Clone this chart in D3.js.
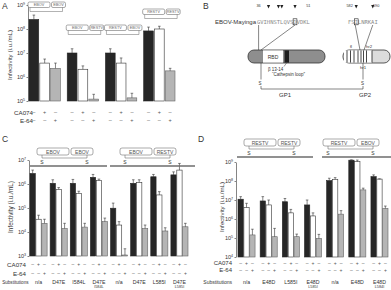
<!DOCTYPE html>
<html>
<head>
<meta charset="utf-8">
<script src="https://cdn.jsdelivr.net/npm/d3@7"></script>
<style>
  body { margin: 0; background: #fff; }
  svg { display: block; font-family: "Liberation Sans", Arial, sans-serif; }
</style>
</head>
<body>
<svg id="fig" width="391" height="290"></svg>
<script>
// treatment pattern under every group: untreated, CA074, E-64
var treatCA = ['-', '+', '-']
var treatE64 = ['-', '-', '+']

// A: chimeric GP1 / GP2
var aChimeras = [['EBOV', 'EBOV'], ['EBOV', 'RESTV'], ['RESTV', 'EBOV'], ['RESTV', 'RESTV']]
var aNone = [2.5e8, 1.0e7, 1.0e7, 8.3e7]
var aNoneSD = [1.3e8, 0.5e7, 0.5e7, 3.7e7]
var aCA = [3.8e6, 2.1e6, 3.8e6, 1.0e8]
var aCASD = [1.8e6, 0.8e6, 2.4e6, 0.3e8]
var aE64 = [2.3e6, 1.2e5, 1.35e5, 1.8e6]
var aE64SD = [1.5e6, 0.7e5, 0.75e5, 0.5e6]
var aTicks = [1e5, 1e6, 1e7, 1e8, 1e9]

// C: substitutions in EBOV backgrounds
var cChimeras = [['EBOV', 'EBOV'], ['EBOV', 'RESTV']]
var cSubs = ['n/a', 'D47E', 'I584L', 'D47E|I584L', 'n/a', 'D47E', 'L585I', 'D47E|L585I']
var cNone = [2.75e6, 1.07e6, 1.07e6, 1.9e6, 9.8e4, 1.07e6, 2.0e6, 2.4e6]
var cNoneSD = [1.05e6, 0.43e6, 0.48e6, 0.6e6, 0.62e5, 0.43e6, 0.5e6, 0.8e6]
var cCA = [3.4e4, 6.0e5, 4.1e5, 1.4e6, 1.95e4, 1.15e6, 3.5e5, 3.8e6]
var cCASD = [1.6e4, 1.1e5, 0.9e5, 0.2e6, 0.75e4, 0.35e6, 1.3e5, 3.4e6]
var cE64 = [2.3e4, 1.4e4, 1.6e4, 2.7e4, 1.1e3, 1.4e4, 1.1e4, 1.65e4]
var cE64SD = [1.1e4, 0.9e4, 0.7e4, 1.1e4, 0.9e3, 0.55e4, 0.4e4, 0.65e4]
var cTicks = [1e3, 1e4, 1e5, 1e6, 1e7]

// D: substitutions in RESTV backgrounds
var dChimeras = [['RESTV', 'RESTV'], ['RESTV', 'EBOV']]
var dSubs = ['n/a', 'E48D', 'L585I', 'E48D|L585I', 'n/a', 'E48D', 'E48D|L584I']
var dNone = [1.1e7, 8.9e6, 8.1e6, 5.5e6, 1.05e8, 1.25e9, 1.7e8]
var dNoneSD = [0.4e7, 0.61e7, 0.39e7, 0.45e7, 0.35e8, 0.05e9, 0.4e8]
var dCA = [4.0e6, 5.5e6, 2.1e6, 1.45e6, 1.23e8, 1.05e9, 1.26e8]
var dCASD = [2.7e6, 4.5e6, 1.1e6, 0.65e6, 0.27e8, 0.21e9, 0.04e8]
var dE64 = [1.45e5, 1.17e5, 1.17e5, 9.5e4, 1.8e6, 3.4e7, 3.6e6]
var dE64SD = [1.45e5, 2.03e5, 0.43e5, 0.6e5, 0.95e6, 0.8e7, 1.2e6]
var dTicks = [1e4, 1e5, 1e6, 1e7, 1e8, 1e9]

// B: GP schematic
var gp1Seq = 'GVIHNSTLQVSDVDKL', gp1Start = 36, gp1Box = 47, gp1Marks = [39, 42, 43, 47]
var gp2Seq = 'FSILNRKAI', gp2Start = 582, gp2Box = 584, gp2Marks = [584, 589]

var svg = d3.select('#fig')
var ink = '#333'
var fills = ['#262626', '#ffffff', '#b5b5b5']
var strokes = ['#262626', '#333', '#666']

function txt(g, x, y, s, fs, anchor) {
  return g.append('text').attr('x', x).attr('y', y).text(s)
    .attr('font-size', fs).attr('fill', ink)
    .attr('text-anchor', anchor || 'start')
    .attr('dominant-baseline', 'central')
}

function expLabels(sel, fs) {
  sel.each(function (d) {
    var t = d3.select(this).text('')
    t.append('tspan').text('10')
    t.append('tspan').attr('dy', -fs * 0.45).attr('font-size', fs * 0.65)
      .text(Math.round(Math.log10(d)))
  })
}

function barPanel(p) {
  var g = svg.append('g')
  var n = p.none.length
  var x = d3.scaleBand().domain(d3.range(n)).range(p.xr).paddingInner(p.pad)
  var xs = d3.scaleBand().domain([0, 1, 2]).range([0, x.bandwidth()]).paddingInner(0.1)
  var y = d3.scaleLog().domain(p.yd).range(p.yr)
  var base = y(p.yd[0])
  var bw = xs.bandwidth()

  var ax = g.append('g').attr('transform', 'translate(' + p.axX + ',0)')
    .call(d3.axisLeft(y).tickValues(p.ticks).tickSize(1.5).tickSizeOuter(0).tickPadding(1.5))
  ax.attr('font-family', null).attr('font-size', 5.5)
  ax.select('.domain').attr('stroke', ink).attr('stroke-width', 0.6)
  ax.selectAll('.tick line').attr('stroke', ink).attr('stroke-width', 0.6)
  ax.selectAll('.tick text').attr('fill', ink).call(expLabels, 5.5)

  g.append('text').attr('transform', 'translate(' + p.titleX + ',' + p.titleY + ') rotate(-90)')
    .attr('text-anchor', 'middle').attr('dominant-baseline', 'central')
    .attr('font-size', p.titleFs).attr('fill', ink).text('Infectivity (i.u./mL)')

  var series = [p.none, p.ca, p.e64], sds = [p.noneSD, p.caSD, p.e64SD]
  series.forEach(function (vals, s) {
    var sg = g.append('g')
    sg.selectAll('rect').data(vals).join('rect')
      .attr('x', (d, i) => x(i) + xs(s))
      .attr('y', d => y(d))
      .attr('width', bw)
      .attr('height', d => base - y(d))
      .attr('fill', fills[s]).attr('stroke', strokes[s]).attr('stroke-width', 0.6)
    sg.selectAll('path').data(vals).join('path')
      .attr('d', function (d, i) {
        var cx = x(i) + xs(s) + bw / 2, y0 = y(d), y1 = y(d + sds[s][i])
        return 'M' + cx + ',' + y0 + 'V' + y1 + 'M' + (cx - 1.3) + ',' + y1 + 'H' + (cx + 1.3)
      })
      .attr('stroke', ink).attr('stroke-width', 0.6).attr('fill', 'none')
  })

  // treatment rows
  txt(g, p.rowX, p.rowY[0], 'CA074', p.rowFs, 'end')
  txt(g, p.rowX, p.rowY[1], 'E-64', p.rowFs, 'end')
  ;[treatCA, treatE64].forEach(function (row, r) {
    d3.range(n).forEach(function (i) {
      row.forEach(function (c, s) {
        txt(g, x(i) + xs(s) + bw / 2, p.rowY[r], c === '+' ? '+' : '\u2013', p.signFs, 'middle')
          .attr('fill', '#555')
      })
    })
  })

  if (p.subs) {
    txt(g, p.subX, p.subY, 'Substitutions', p.subFs, 'end')
    p.subs.forEach(function (s, i) {
      var parts = s.split('|'), cx = x(i) + x.bandwidth() / 2
      txt(g, cx, p.subY, parts[0], 5.2, 'middle')
      if (parts[1]) txt(g, cx, p.subY + 5, parts[1], 3.8, 'middle')
    })
  }
  return { g: g, x: x, xs: xs, y: y }
}

// boxes for GP1 / GP2 origin, small style (panel A)
function smallChimera(g, x0, y0, labels) {
  var w = [22, 14], h = 5.5, xx = [x0, x0 + w[0] + 1.5]
  labels.forEach(function (l, k) {
    g.append('rect').attr('x', xx[k]).attr('y', y0).attr('width', w[k]).attr('height', h)
      .attr('rx', 1.5).attr('fill', '#fff').attr('stroke', '#555').attr('stroke-width', 0.5)
    txt(g, xx[k] + w[k] / 2, y0 + h / 2 + 0.3, l, 3.8, 'middle').attr('fill', '#666')
  })
  g.append('path')
    .attr('d', 'M' + (x0 + 2) + ',' + (y0 + h) + 'V' + (y0 + h + 4) + 'H' + (xx[1] + w[1] - 3) + 'V' + (y0 + h))
    .attr('fill', 'none').attr('stroke', '#666').attr('stroke-width', 0.5)
}

// boxes with S-S bond and group rule (panels C, D)
function bigChimera(g, x0, y0, labels, rule) {
  var w = [32, 22], h = 7, xx = [x0, x0 + w[0] + 2]
  labels.forEach(function (l, k) {
    g.append('rect').attr('x', xx[k]).attr('y', y0).attr('width', w[k]).attr('height', h)
      .attr('rx', 2).attr('fill', '#fff').attr('stroke', '#555').attr('stroke-width', 0.5)
    txt(g, xx[k] + w[k] / 2, y0 + h / 2 + 0.3, l, 5, 'middle').attr('fill', '#555')
  })
  var s1 = x0 + 5, s2 = xx[1] + w[1] - 6, ly = y0 + h + 3
  g.append('path')
    .attr('d', 'M' + s1 + ',' + (y0 + h) + 'V' + ly + 'H' + s2 + 'V' + (y0 + h))
    .attr('fill', 'none').attr('stroke', '#555').attr('stroke-width', 0.5)
  txt(g, s1, ly + 3.5, 'S', 5, 'middle')
  txt(g, s2, ly + 3.5, 'S', 5, 'middle')
  g.append('line').attr('x1', rule[0]).attr('x2', rule[1]).attr('y1', ly + 8).attr('y2', ly + 8)
    .attr('stroke', '#6d6d6d').attr('stroke-width', 1.4)
}

// ---- panel A
var pa = barPanel({
  none: aNone, noneSD: aNoneSD, ca: aCA, caSD: aCASD, e64: aE64, e64SD: aE64SD,
  xr: [29, 175], pad: 0.18, yd: [1e5, 1e9], yr: [101, 5], ticks: aTicks, axX: 28,
  titleX: 9, titleY: 55, titleFs: 6.2,
  rowX: 33, rowY: [112, 120], rowFs: 6.2, signFs: 5.5
})
var aHeadTop = [2, 25, 25, 9]
aChimeras.forEach(function (c, i) { smallChimera(pa.g, pa.x(i) - 1, aHeadTop[i], c) })

// ---- panel C
var pc = barPanel({
  none: cNone, noneSD: cNoneSD, ca: cCA, caSD: cCASD, e64: cE64, e64SD: cE64SD,
  subs: cSubs,
  xr: [30, 188], pad: 0.15, yd: [1e3, 1e7], yr: [256, 160], ticks: cTicks, axX: 29,
  titleX: 10, titleY: 207, titleFs: 6.4,
  rowX: 26, rowY: [264, 273], rowFs: 6.2, signFs: 5,
  subX: 28.5, subY: 282, subFs: 4.6
})
bigChimera(pc.g, 37, 148, cChimeras[0], [30, 107])
bigChimera(pc.g, 120, 148, cChimeras[1], [110, 195])

// ---- panel D
var pd = barPanel({
  none: dNone, noneSD: dNoneSD, ca: dCA, caSD: dCASD, e64: dE64, e64SD: dE64SD,
  subs: dSubs,
  xr: [238, 388], pad: 0.23, yd: [1e4, 1e9], yr: [257, 162], ticks: dTicks, axX: 236,
  titleX: 221, titleY: 207, titleFs: 6.2,
  rowX: 232, rowY: [263, 270], rowFs: 6, signFs: 5,
  subX: 232, subY: 282, subFs: 5
})
bigChimera(pd.g, 244, 139, dChimeras[0], [237, 313])
bigChimera(pd.g, 323, 139, dChimeras[1], [322, 391])

// ---- panel B schematic
var gb = svg.append('g')
var cw = 3.31
var seq1X = d3.scaleLinear().domain([gp1Start, gp1Start + 1]).range([258.6, 258.6 + cw])
var seq2X = d3.scaleLinear().domain([gp2Start, gp2Start + 1]).range([349.6, 349.6 + cw])

function drawSeq(seq, start, sx, boxRes, marks) {
  seq.split('').forEach(function (c, k) {
    txt(gb, sx(start + k), 22, c, 5.5, 'middle').attr('font-family', 'DejaVu Sans Mono').attr('fill', '#8a8a8a')
  })
  gb.append('rect').attr('x', sx(boxRes) - 1.9).attr('y', 18.8).attr('width', 3.8).attr('height', 6)
    .attr('fill', 'none').attr('stroke', '#222').attr('stroke-width', 0.6)
  txt(gb, sx(start), 5.5, String(start), 3.8, 'middle')
  txt(gb, sx(start + seq.length - 1), 5.5, String(start + seq.length - 1), 3.8, 'middle')
  marks.forEach(function (m) {
    var cx = sx(m)
    gb.append('path').attr('d', 'M' + (cx - 1.6) + ',5 H' + (cx + 1.6) + ' L' + cx + ',8.5Z').attr('fill', '#222')
  })
}
txt(gb, 215, 22, 'EBOV-Mayinga', 6, 'start')
drawSeq(gp1Seq, gp1Start, seq1X, gp1Box, gp1Marks)
drawSeq(gp2Seq, gp2Start, seq2X, gp2Box, gp2Marks)

function seg(x1, y1, x2, y2, w) {
  gb.append('line').attr('x1', x1).attr('y1', y1).attr('x2', x2).attr('y2', y2)
    .attr('stroke', '#333').attr('stroke-width', w || 0.6)
}
// zoom lines from sequences to domains
seg(seq1X(gp1Start), 25, seq1X(gp1Start), 50)
seg(seq1X(gp1Box), 25, 261, 50)
seg(seq2X(gp2Box) - 1, 25, 360, 50)
seg(seq2X(gp2Start + 7), 25, 364, 50)

// GP1
gb.append('rect').attr('x', 248).attr('y', 50).attr('width', 77).attr('height', 13).attr('rx', 6)
  .attr('fill', '#8e8e8e').attr('stroke', '#333').attr('stroke-width', 0.8)
gb.append('rect').attr('x', 263).attr('y', 50.4).attr('width', 20).attr('height', 12.2).attr('fill', '#fff')
txt(gb, 273, 56.7, 'RBD', 5, 'middle')
gb.append('rect').attr('x', 284.5).attr('y', 50.4).attr('width', 4.5).attr('height', 12.2).attr('fill', '#1e1e1e')
seg(286.5, 63, 284, 66.5, 0.5)
txt(gb, 268, 69.5, '\u03b2 13-14', 4.5, 'start')
txt(gb, 272, 74.5, '\u201cCathepsin loop\u201d', 4.5, 'start')

// GP2
gb.append('rect').attr('x', 343).attr('y', 50).attr('width', 47).attr('height', 13).attr('rx', 6)
  .attr('fill', '#dcdcdc').attr('stroke', '#333').attr('stroke-width', 0.8)
gb.append('rect').attr('x', 344).attr('y', 50.4).attr('width', 28).attr('height', 12.2).attr('fill', '#fff')
;[347, 350.5, 354, 358, 361, 363.5, 366.5, 372].forEach(function (sx) { seg(sx, 50.4, sx, 62.6, 0.9) })
txt(gb, 351, 46, 'fl', 4.2, 'middle')
txt(gb, 369, 46, 'hr2', 4.2, 'middle')
txt(gb, 363, 67.5, 'hr1', 4.2, 'middle')

// disulfide between GP1 and GP2
seg(261, 63, 261, 79.5)
seg(261, 86, 261, 89)
seg(261, 89, 363, 89)
seg(363, 63, 363, 79.5)
seg(363, 86, 363, 89)
txt(gb, 260, 83, 'S', 4.5, 'middle')
txt(gb, 362.5, 83, 'S', 4.5, 'middle')
txt(gb, 285, 95, 'GP1', 6, 'middle')
txt(gb, 365, 95, 'GP2', 6, 'middle')

// panel letters
txt(svg, 2, 6, 'A', 8.5, 'start')
txt(svg, 203, 6, 'B', 8.5, 'start')
txt(svg, 2, 139, 'C', 8.5, 'start')
txt(svg, 198, 139, 'D', 8.5, 'start')
</script>
</body>
</html>
